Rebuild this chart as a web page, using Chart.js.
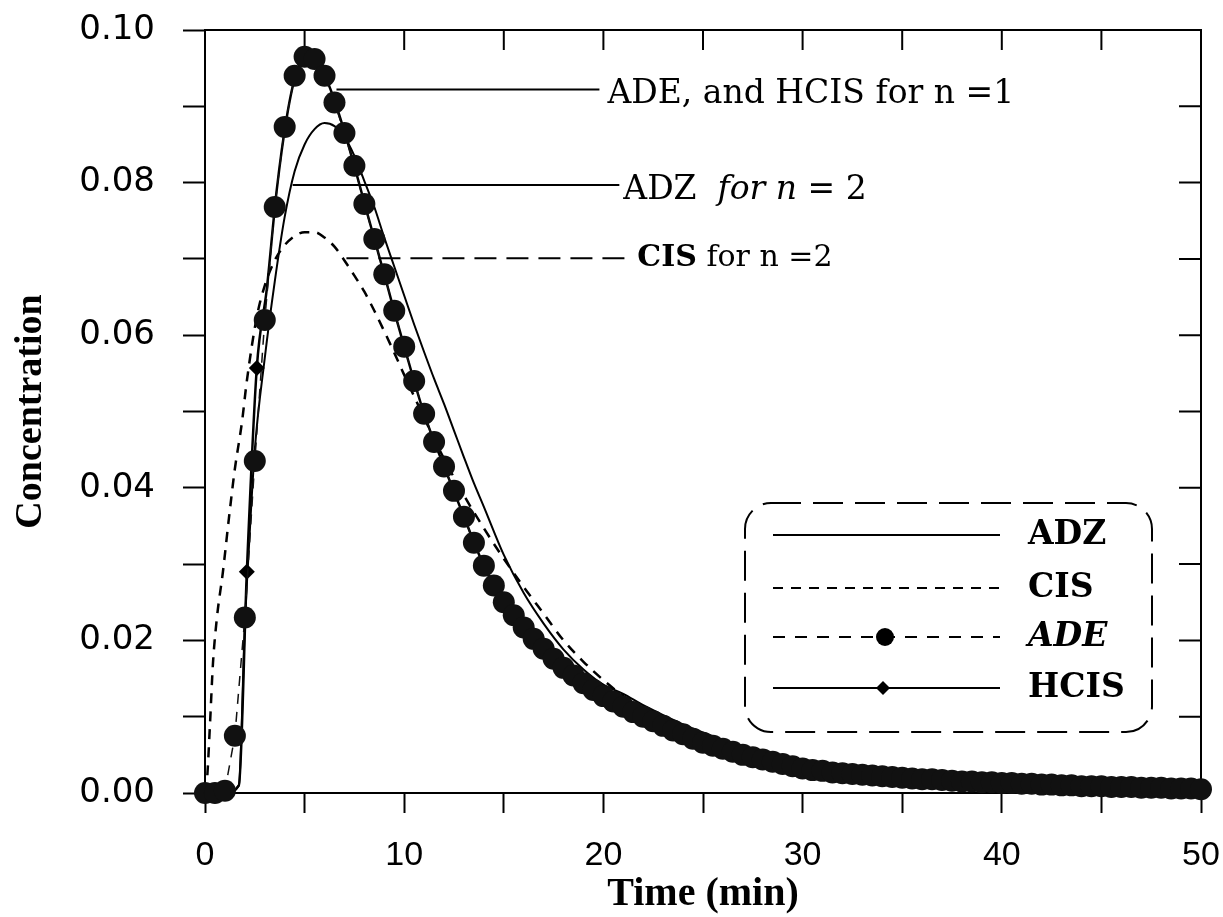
<!DOCTYPE html>
<html>
<head>
<meta charset="utf-8">
<script src="https://cdn.jsdelivr.net/npm/chart.js@4.4.1/dist/chart.umd.min.js"></script>
<style>
  html, body { margin: 0; padding: 0; background: #fff; }
  canvas { display: block; }
</style>
</head>
<body>
<canvas id="chart" width="1223" height="917"></canvas>
<script>
// Concentration vs time: ADE dots, HCIS diamonds, ADZ solid, CIS dashed
// values

// ADE (big dots), every 0.5 min
const ADE_T = [0,0.5,1,1.5,2,2.5,3,3.5,4,4.5,5,5.5,6,6.5,7,7.5,8,8.5,9,9.5,
  10,10.5,11,11.5,12,12.5,13,13.5,14,14.5,15,15.5,16,16.5,17,17.5,18,18.5,19,19.5,
  20,20.5,21,21.5,22,22.5,23,23.5,24,24.5,25,25.5,26,26.5,27,27.5,28,28.5,29,29.5,
  30,30.5,31,31.5,32,32.5,33,33.5,34,34.5,35,35.5,36,36.5,37,37.5,38,38.5,39,39.5,
  40,40.5,41,41.5,42,42.5,43,43.5,44,44.5,45,45.5,46,46.5,47,47.5,48,48.5,49,49.5,50];
const ADE_C = [0,0,0.0003,0.0075,0.0230,0.0435,0.0620,0.0768,0.0873,0.0940,
  0.0965,0.0962,0.0940,0.0905,0.0865,0.0822,0.0772,0.0726,0.0680,0.0632,
  0.0585,0.0540,0.0497,0.0460,0.0428,0.0396,0.0362,0.0328,0.0298,0.0272,
  0.0250,0.0233,0.0217,0.0202,0.0189,0.0176,0.0164,0.0154,0.0144,0.0135,
  0.0127,0.0120,0.0113,0.0106,0.0100,0.0094,0.0088,0.0082,0.0077,0.0071,
  0.0066,0.0062,0.0058,0.0054,0.0050,0.0047,0.0044,0.0041,0.0038,0.0035,
  0.0032,0.0030,0.0029,0.0027,0.0026,0.0025,0.0024,0.0023,0.0022,0.0021,
  0.0020,0.0019,0.0018,0.0018,0.0017,0.0016,0.0015,0.0015,0.0014,0.0014,
  0.0013,0.0013,0.0012,0.0012,0.0011,0.0011,0.0010,0.0010,0.0009,0.0009,
  0.0009,0.0008,0.0008,0.0008,0.0007,0.0007,0.0007,0.0006,0.0006,0.0006,0.0005];

// HCIS (solid with diamonds)
const HCIS_T = [0,1.0,1.7,2.1,2.6,3.1,3.6,4.1,4.6,5.1,5.6,6.1,6.6,7.1,7.6,8.1,8.6,9.1,9.6,10.1,
  11,12,13,14,15,16,18,20,22,25,28,32,36,40,45,50];
const HCIS_C = [0,0,0.0010,0.0290,0.0557,0.0660,0.0790,0.0885,0.0945,0.0963,0.0958,0.0935,0.0900,
  0.0858,0.0812,0.0764,0.0717,0.0670,0.0622,0.0576,
  0.0497,0.0428,0.0362,0.0298,0.0250,0.0217,0.0164,0.0127,0.0100,0.0066,0.0044,0.0026,0.0018,0.0013,0.0009,0.0005];
// only the two diamonds that show between the dots
const HCIS_MARK = HCIS_T.map(t => (t === 2.1 || t === 2.6 ? 8 : 0));

// ADZ (solid, n = 2)
const ADZ_T = [0,1.0,1.7,2.0,2.2,2.5,3.0,3.5,4.0,4.5,5.0,5.5,6.0,6.5,7.0,7.5,8.0,8.5,9.0,9.5,
  10,10.5,11,11.5,12,12.5,13,13.5,14,15,16,17,18,19,20,21,22,24,26,28,30,33,36,40,45,50];
const ADZ_C = [0,0,0.0010,0.0220,0.0320,0.0450,0.0570,0.0670,0.0755,0.0815,0.0850,0.0870,0.0878,
  0.0874,0.0860,0.0835,0.0802,0.0768,0.0728,0.0690,
  0.0652,0.0614,0.0578,0.0543,0.0510,0.0475,0.0440,0.0406,0.0375,0.0312,0.0262,0.0222,0.0188,
  0.0162,0.0142,0.0130,0.0115,0.0090,0.0070,0.0054,0.0042,0.0029,0.0021,0.0014,0.0009,0.0006];

// CIS (dashed, n = 2)
const CIS_T = [0,0.1,0.25,0.4,0.6,0.9,1.2,1.5,1.85,2.1,2.6,3.0,3.5,4.0,4.5,5.0,5.5,6.0,6.5,7.0,
  7.5,8.0,8.5,9.0,9.5,10,11,12,13,14,15,16,17,18,19,20,21,22,24,26,28,30,33,36,40,45,50];
const CIS_C = [0,0.0017,0.0090,0.0170,0.0230,0.0290,0.0360,0.0425,0.0485,0.0540,0.0624,0.0665,
  0.0698,0.0718,0.0730,0.0735,0.0735,0.0728,0.0716,0.0698,0.0678,0.0657,0.0632,0.0605,0.0577,
  0.0548,0.0492,0.0438,0.0390,0.0347,0.0307,0.0270,0.0235,0.0200,0.0172,0.0148,0.0127,0.0110,
  0.0086,0.0068,0.0054,0.0042,0.0029,0.0020,0.0013,0.0008,0.0005];

// leader-line annotations, in data units
const NOTES = [
  { x0: 6.6, x1: 19.8, y: 0.0922, dash: false, tx: 20.2, ty: 0.0915, size: 33,
    parts: [['ADE, and HCIS for n =1', '']] },
  { x0: 4.4, x1: 20.8, y: 0.0797, dash: false, tx: 21.0, ty: 0.0790, size: 33,
    parts: [['ADZ  ', ''], ['for n', 'italic '], [' = 2', '']] },
  { x0: 7.1, x1: 21.3, y: 0.0701, dash: true, tx: 21.7, ty: 0.0701, size: 30,
    parts: [['CIS', 'bold '], [' for n =2', '']] }
];

const SERIF = 'DejaVu Serif';

function zip(xs, ys) { return xs.map((x, i) => ({ x: x, y: ys[i] })); }

// frame + inside ticks on top and right
const framePlugin = {
  id: 'frame',
  beforeDatasetsDraw(chart) {
    const { ctx, chartArea: a, scales: { x, y } } = chart;
    ctx.save();
    ctx.strokeStyle = '#000';
    ctx.lineWidth = 2;
    ctx.beginPath();
    ctx.moveTo(a.left, a.top); ctx.lineTo(a.right, a.top); ctx.lineTo(a.right, a.bottom);
    x.ticks.forEach(t => {
      const px = x.getPixelForValue(t.value);
      ctx.moveTo(px, a.top); ctx.lineTo(px, a.top + 20);
    });
    y.ticks.forEach(t => {
      const py = y.getPixelForValue(t.value);
      ctx.moveTo(a.right, py); ctx.lineTo(a.right - 22, py);
    });
    ctx.stroke();
    ctx.restore();
  }
};

// leader lines with labels
const notesPlugin = {
  id: 'notes',
  afterDatasetsDraw(chart) {
    const { ctx, scales: { x, y } } = chart;
    ctx.save();
    NOTES.forEach(n => {
      const py = y.getPixelForValue(n.y);
      ctx.strokeStyle = '#000';
      ctx.lineWidth = 2;
      ctx.setLineDash(n.dash ? [22, 10] : []);
      ctx.beginPath();
      ctx.moveTo(x.getPixelForValue(n.x0), py);
      ctx.lineTo(x.getPixelForValue(n.x1), py);
      ctx.stroke();
      ctx.setLineDash([]);
      let tx = x.getPixelForValue(n.tx);
      const ty = y.getPixelForValue(n.ty);
      ctx.fillStyle = '#000';
      ctx.textBaseline = 'middle';
      ctx.textAlign = 'left';
      n.parts.forEach(p => {
        ctx.font = p[1] + n.size + 'px "' + SERIF + '"';
        ctx.fillText(p[0], tx, ty);
        tx += ctx.measureText(p[0]).width;
      });
    });
    ctx.restore();
  }
};

// hand-drawn legend box like the original
const legendPlugin = {
  id: 'boxLegend',
  afterDraw(chart) {
    const ctx = chart.ctx;
    const L = 745, T = 503, R = 1152, B = 732, r = 26;
    ctx.save();
    ctx.fillStyle = '#fff';
    ctx.strokeStyle = '#000';
    ctx.lineWidth = 2;
    ctx.setLineDash([30, 12]);
    ctx.beginPath();
    ctx.moveTo(L + r, T);
    ctx.lineTo(R - r, T); ctx.arcTo(R, T, R, T + r, r);
    ctx.lineTo(R, B - r); ctx.arcTo(R, B, R - r, B, r);
    ctx.lineTo(L + r, B); ctx.arcTo(L, B, L, B - r, r);
    ctx.lineTo(L, T + r); ctx.arcTo(L, T, L + r, T, r);
    ctx.closePath();
    ctx.fill();
    ctx.stroke();

    const rows = [
      { y: 535, label: 'ADZ', dash: [], font: 'bold ', mark: null },
      { y: 588, label: 'CIS', dash: [10, 8], font: 'bold ', mark: null },
      { y: 637, label: 'ADE', dash: [12, 10], font: 'italic bold ', mark: 'dot' },
      { y: 688, label: 'HCIS', dash: [], font: 'bold ', mark: 'diamond' }
    ];
    rows.forEach(row => {
      ctx.setLineDash(row.dash);
      ctx.lineWidth = 2;
      ctx.beginPath();
      ctx.moveTo(773, row.y); ctx.lineTo(1000, row.y);
      ctx.stroke();
      ctx.setLineDash([]);
      ctx.fillStyle = '#000';
      if (row.mark === 'dot') {
        ctx.beginPath(); ctx.arc(885, row.y, 9, 0, Math.PI * 2); ctx.fill();
      } else if (row.mark === 'diamond') {
        ctx.beginPath();
        ctx.moveTo(883, row.y - 7); ctx.lineTo(890, row.y); ctx.lineTo(883, row.y + 7); ctx.lineTo(876, row.y);
        ctx.closePath(); ctx.fill();
      }
      ctx.font = row.font + '33px "' + SERIF + '"';
      ctx.textBaseline = 'middle';
      ctx.textAlign = 'left';
      ctx.fillText(row.label, 1028, row.y);
    });
    ctx.restore();
  }
};

function initChart() {
  const ctx = document.getElementById('chart').getContext('2d');
  new Chart(ctx, {
    type: 'line',
    data: {
      datasets: [
        {
          label: 'ADE',
          data: zip(ADE_T, ADE_C),
          borderColor: '#111',
          borderWidth: 1.5,
          borderDash: [10, 8],
          pointRadius: 11,
          pointBackgroundColor: '#111',
          pointBorderWidth: 0,
          clip: false
        },
        {
          label: 'HCIS',
          data: zip(HCIS_T, HCIS_C),
          borderColor: '#000',
          borderWidth: 2.5,
          cubicInterpolationMode: 'monotone',
          pointStyle: 'rectRot',
          pointRadius: HCIS_MARK,
          pointBackgroundColor: '#000',
          pointBorderWidth: 0
        },
        {
          label: 'ADZ',
          data: zip(ADZ_T, ADZ_C),
          borderColor: '#000',
          borderWidth: 2,
          cubicInterpolationMode: 'monotone',
          pointRadius: 0
        },
        {
          label: 'CIS',
          data: zip(CIS_T, CIS_C),
          borderColor: '#000',
          borderWidth: 2.5,
          borderDash: [10, 8],
          cubicInterpolationMode: 'monotone',
          pointRadius: 0
        }
      ]
    },
    options: {
      responsive: false,
      animation: false,
      layout: { autoPadding: false, padding: { top: 30, right: 22, left: 0, bottom: 0 } },
      plugins: {
        legend: { display: false },
        tooltip: { enabled: false }
      },
      scales: {
        x: {
          type: 'linear',
          min: 0, max: 50,
          // fixed box; drop the label overflow so the plot area stays put
          afterFit: s => { s.height = 124; s.paddingLeft = 0; s.paddingRight = 0; },
          border: { display: true, color: '#000', width: 2 },
          grid: { drawOnChartArea: false, drawTicks: true, tickLength: 20, tickWidth: 2, tickColor: '#000' },
          ticks: {
            stepSize: 5,
            maxRotation: 0,
            padding: 22,
            color: '#000',
            font: { family: 'Liberation Sans', size: 34 },
            callback: v => (v % 10 === 0 ? String(v) : '')
          },
          title: {
            display: true,
            text: 'Time (min)',
            color: '#000',
            padding: { top: 0, bottom: 2 },
            font: { family: 'Liberation Serif', size: 40, weight: 'bold', lineHeight: 1 }
          }
        },
        y: {
          min: 0, max: 0.1,
          afterFit: s => { s.width = 205; s.paddingTop = 0; s.paddingBottom = 0; },
          border: { display: true, color: '#000', width: 2 },
          grid: { drawOnChartArea: false, drawTicks: true, tickLength: 22, tickWidth: 2, tickColor: '#000' },
          ticks: {
            stepSize: 0.01,
            padding: 28,
            color: '#000',
            font: { family: 'DejaVu Sans', size: 34 },
            callback: v => (Math.round(v * 100) % 2 === 0 ? v.toFixed(2) : '')
          },
          title: {
            display: true,
            text: 'Concentration',
            color: '#000',
            padding: { top: 12, bottom: 0 },
            font: { family: 'Liberation Serif', size: 38, weight: 'bold', lineHeight: 1 }
          }
        }
      }
    },
    plugins: [framePlugin, notesPlugin, legendPlugin]
  });
}

document.addEventListener('DOMContentLoaded', initChart);
</script>
</body>
</html>
